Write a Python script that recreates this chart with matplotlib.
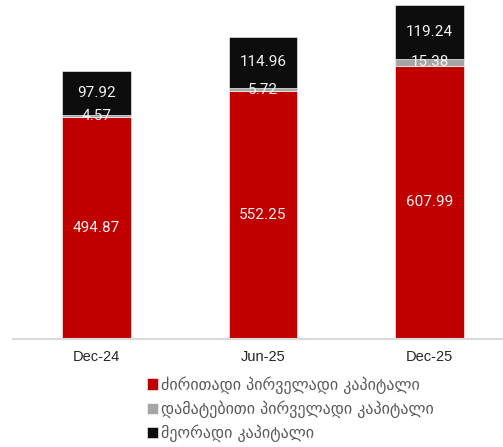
import matplotlib.pyplot as plt
import numpy as np

periods = ["Dec-24", "Jun-25", "Dec-25"]
core_tier1 = [494.87, 552.25, 607.99]
additional_tier1 = [4.57, 5.72, 15.38]
tier2 = [97.92, 114.96, 119.24]

legend_labels = [
    "ძირითადი პირველადი კაპიტალი",
    "დამატებითი პირველადი კაპიტალი",
    "მეორადი კაპიტალი",
]
colors = ["#c00000", "#a6a6a6", "#0d0d0d"]

W, H = 503, 447
fig = plt.figure(figsize=(W / 100, H / 100), dpi=100)
ax = fig.add_axes([13 / W, (H - 339) / H, 500 / W, 337 / H])

x = np.arange(len(periods))
width = 0.41
bottom = np.zeros(len(periods))
for vals, col, lab in zip([core_tier1, additional_tier1, tier2], colors, legend_labels):
    vals = np.array(vals)
    ax.bar(x, vals, width, bottom=bottom, color=col, label=lab,
           edgecolor="white", linewidth=0.4)
    for xi, b, v in zip(x, bottom, vals):
        ax.text(xi, b + v / 2, f"{v:.2f}", ha="center", va="center",
                color="#f2f2f2", fontsize=11, family="Roboto")
    bottom += vals

ax.set_xlim(-0.5, 2.5)
ax.set_ylim(0, 750)
ax.set_yticks([])
ax.set_xticks(x)
ax.set_xticklabels(periods, family="Liberation Sans", fontsize=10.5, color="#262626")
ax.tick_params(axis="x", length=0, pad=8)
for s in ["top", "right", "left"]:
    ax.spines[s].set_visible(False)
ax.spines["bottom"].set_color("#d9d9d9")
ax.spines["bottom"].set_linewidth(1.5)

handles, labels = ax.get_legend_handles_labels()
fig.legend(handles, labels, loc="upper left", bbox_to_anchor=(147 / W, 1 - 376 / H),
           frameon=False, handlelength=0.7, handleheight=0.7, handletextpad=0.15,
           labelspacing=0.42, borderaxespad=0, borderpad=0,
           prop={"family": "DejaVu Sans", "size": 11.5}, labelcolor="#595959")

fig.savefig("out.png", dpi=100)
